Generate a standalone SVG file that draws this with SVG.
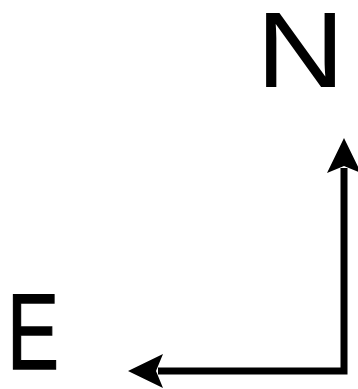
<svg xmlns="http://www.w3.org/2000/svg" width="358" height="389" viewBox="0 0 358 389">
<style>
.lbl{font-family:"Liberation Sans",Arial,sans-serif;font-size:107px;fill:#000}
.shaft{fill:none;stroke:#000;stroke-width:7;stroke-linejoin:miter}
.head{fill:#000}
</style>
<rect width="358" height="389" fill="#fff"/>
<g id="node-N"><text class="lbl" x="256" y="87" textLength="89" lengthAdjust="spacingAndGlyphs">N</text></g>
<g id="node-E"><text class="lbl" x="7" y="369" textLength="52" lengthAdjust="spacingAndGlyphs" stroke="#000" stroke-width="1.5">E</text></g>
<g id="connectors">
<path class="shaft" d="M344,168 L344,371 L158,371"/>
<polygon class="head" points="344,138 361,173 344,166 327,173"/>
<polygon class="head" points="128,371 163,354 156,371 163,388"/>
</g>
</svg>
